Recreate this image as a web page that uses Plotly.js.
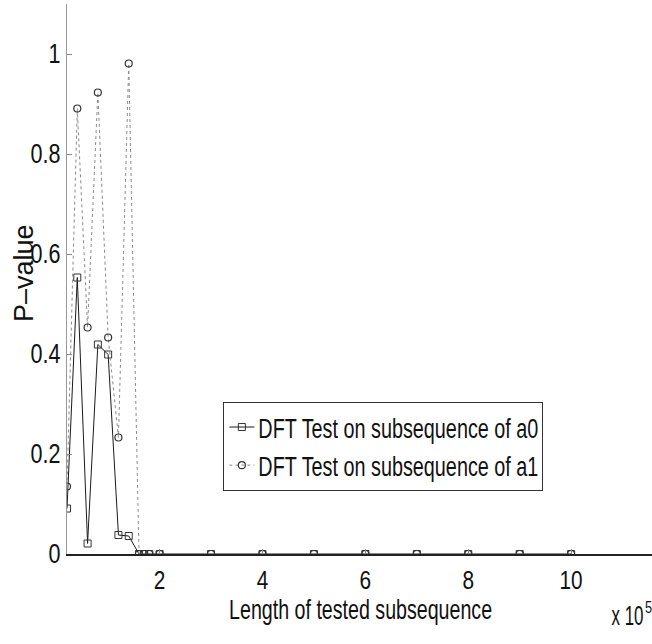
<!DOCTYPE html>
<html>
<head>
<meta charset="utf-8">
<script src="https://cdn.plot.ly/plotly-3.0.1.min.js"></script>
<style>
html,body{margin:0;padding:0;overflow:hidden;background:#fff;width:652px;height:644px;}
#chart{width:700px;height:644px;}
</style>
</head>
<body>
<div id="chart"></div>
<script>
// Length of tested subsequence (raw values)
const lengths = [20000, 40000, 60000, 80000, 100000, 120000, 140000, 160000, 170000, 180000,
                 200000, 300000, 400000, 500000, 600000, 700000, 800000, 900000, 1000000];
// P-values of the DFT test
const pA0 = [0.091, 0.553, 0.021, 0.419, 0.399, 0.038, 0.036, 0, 0, 0,
             0, 0, 0, 0, 0, 0, 0, 0, 0];
const pA1 = [0.135, 0.891, 0.453, 0.923, 0.433, 0.233, 0.981, 0, 0, 0,
             0, 0, 0, 0, 0, 0, 0, 0, 0];
const seriesNames = ["DFT Test on subsequence of a0", "DFT Test on subsequence of a1"];
const xTickVals = [200000, 400000, 600000, 800000, 1000000];
const xTickText = ["2", "4", "6", "8", "10"];
const yTickVals = [0, 0.2, 0.4, 0.6, 0.8, 1];
const yTickText = ["0", "0.2", "0.4", "0.6", "0.8", "1"];
const xTitle = 'Length of tested subsequence';
const yTitle = 'P–value';
const xExpBase = 'x 10';
const xExpPower = '5';

const sans = '"Liberation Sans", Arial, Helvetica, sans-serif';

const traces = [
  {
    x: lengths, y: pA0, name: seriesNames[0], type: 'scatter', mode: 'lines+markers',
    line: {color: '#1a1a1a', width: 1, dash: 'solid'},
    marker: {symbol: 'square-open', size: 7, color: '#333', line: {width: 1, color: '#333'}}
  },
  {
    x: lengths, y: pA1, name: seriesNames[1], type: 'scatter', mode: 'lines+markers',
    line: {color: '#8a8a8a', width: 1, dash: 'dot'},
    marker: {symbol: 'circle-open', size: 7, color: '#333', line: {width: 1.2, color: '#333'}}
  }
];

const layout = {
  width: 700, height: 644,
  margin: {l: 67, r: 26, t: 4, b: 90},
  paper_bgcolor: '#fff', plot_bgcolor: '#fff',
  showlegend: true,
  xaxis: {
    range: [20000, 1200000],
    tickvals: xTickVals, ticktext: xTickText,
    ticks: 'inside', ticklen: 5, tickcolor: '#888', tickwidth: 1,
    showline: true, linecolor: '#222', linewidth: 1.5,
    showgrid: false, zeroline: false,
    ticklabelstandoff: 2,
    tickfont: {family: sans, size: 26, color: '#111'}
  },
  yaxis: {
    range: [0, 1.1],
    tickvals: yTickVals, ticktext: yTickText,
    ticks: 'inside', ticklen: 5, tickcolor: '#888', tickwidth: 1,
    showline: true, linecolor: '#999', linewidth: 1,
    showgrid: false, zeroline: false,
    tickfont: {family: sans, size: 27, color: '#111'}
  },
  legend: {
    x: 0.2576, y: 0.2764, xanchor: 'left', yanchor: 'top',
    bgcolor: '#fff', bordercolor: '#333', borderwidth: 1,
    font: {family: sans, size: 27, color: '#111'},
    tracegroupgap: 0
  },
  annotations: [
    {xref: 'paper', yref: 'paper', x: 0.4835, y: -0.1, xanchor: 'center', yanchor: 'middle',
     text: xTitle, showarrow: false, font: {family: sans, size: 28, color: '#111'}},
    {xref: 'paper', yref: 'paper', x: -0.0708, y: 0.511, xanchor: 'center', yanchor: 'middle',
     text: yTitle, textangle: -90, showarrow: false, font: {family: sans, size: 27, color: '#111'}},
    {xref: 'paper', yref: 'paper', x: 0.9242, y: 0, yshift: -45, xanchor: 'center', yanchor: 'top',
     text: xExpBase, showarrow: false, font: {family: sans, size: 27, color: '#111'}},
    {xref: 'paper', yref: 'paper', x: 0.9588, y: 0, yshift: -43, xanchor: 'center', yanchor: 'top',
     text: xExpPower, showarrow: false, font: {family: sans, size: 16, color: '#111'}}
  ]
};

function squeeze(nodes, ratio, target) {
  nodes.forEach(t => {
    const len = t.getComputedTextLength();
    if (len > 0) {
      const L = target ? target : len * ratio;
      t.setAttribute('textLength', L.toFixed(1));
      t.setAttribute('lengthAdjust', 'spacingAndGlyphs');
    }
  });
}

Plotly.newPlot('chart', traces, layout, {displayModeBar: false, staticPlot: true}).then(gd => {
  squeeze(gd.querySelectorAll('.xtick text'), 0.8);
  squeeze(gd.querySelectorAll('.ytick text'), 0.8);
  const lt = gd.querySelectorAll('.legendtext');
  squeeze(lt, 0, 280);
  lt.forEach(t => t.setAttribute('x', '34'));
  gd.querySelectorAll('.legend .legendlines path').forEach(p => p.setAttribute('d', 'M5,0h25'));
  gd.querySelectorAll('.legend .legendpoints path').forEach(p => p.setAttribute('transform', 'translate(17.5,0)'));
  const ann = gd.querySelectorAll('.annotation-text');
  if (ann[0]) squeeze([ann[0]], 0, 263);
  if (ann[2]) squeeze([ann[2]], 0, 32);
  if (ann[3]) squeeze([ann[3]], 0.8);
  const bg = gd.querySelector('.legend rect.bg');
  if (bg) bg.setAttribute('width', '319');
});
</script>
</body>
</html>
